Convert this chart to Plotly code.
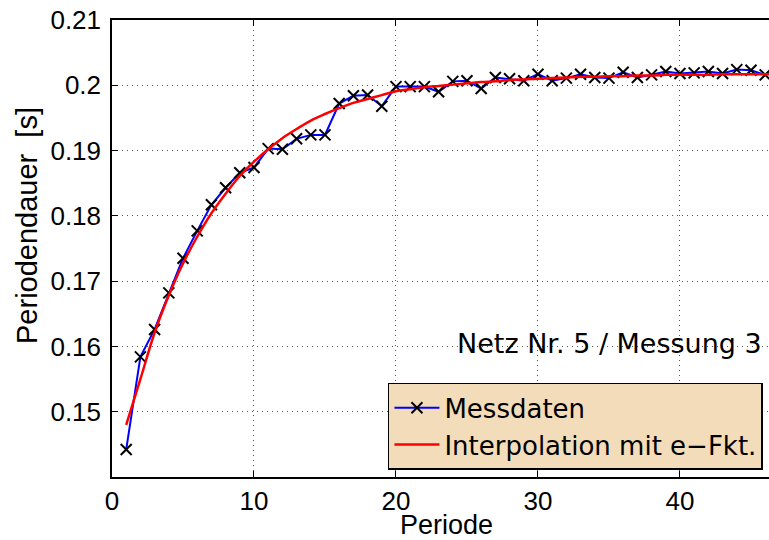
import plotly.graph_objects as go

# Measured period durations per period (Netz Nr. 5 / Messung 3)
periode = list(range(1, 47))
messdaten = [
    0.1442, 0.1584, 0.1626, 0.1682, 0.1735, 0.1777, 0.1817, 0.1843, 0.1866, 0.1874,
    0.1903, 0.1902, 0.1918, 0.1924, 0.1924, 0.1972, 0.1984, 0.1985, 0.1968, 0.1998,
    0.1998, 0.1998, 0.1990, 0.2006, 0.2007, 0.1995, 0.2012, 0.2010, 0.2007, 0.2017,
    0.2007, 0.2011, 0.2017, 0.2012, 0.2011, 0.2020, 0.2012, 0.2016, 0.2021, 0.2018,
    0.2019, 0.2021, 0.2018, 0.2024, 0.2023, 0.2016,
]

# Exponential fit curve sampled at each period
fit_periode = list(range(1, 48))
fit_werte = [
    0.1480, 0.1550, 0.1621, 0.1678, 0.1727, 0.1768, 0.1804, 0.1834, 0.1861, 0.1883,
    0.1902, 0.1919, 0.1933, 0.1946, 0.1956, 0.1965, 0.1973, 0.1979, 0.1985, 0.1991,
    0.1994, 0.1997, 0.1999, 0.2001, 0.2003, 0.2005, 0.2006, 0.2008, 0.2009, 0.2010,
    0.2011, 0.2012, 0.2013, 0.2013, 0.2014, 0.2014, 0.2015, 0.2015, 0.2016, 0.2016,
    0.2016, 0.2016, 0.2017, 0.2017, 0.2017, 0.2017, 0.2017,
]

x_ticks = [0, 10, 20, 30, 40]
y_ticks = [0.15, 0.16, 0.17, 0.18, 0.19, 0.20, 0.21]
y_ticktext = ["0.15", "0.16", "0.17", "0.18", "0.19", "0.2", "0.21"]

FONT = "Liberation Sans, Arial, Helvetica, sans-serif"
WIDE_FONT = "DejaVu Sans, Liberation Sans, sans-serif"

fig = go.Figure()
fig.add_trace(go.Scatter(
    x=periode, y=messdaten, mode="lines+markers", name="Messdaten",
    line=dict(color="#0000FF", width=2),
    marker=dict(symbol="x-thin", size=11, color="black",
                line=dict(color="black", width=2)),
))
fig.add_trace(go.Scatter(
    x=fit_periode, y=fit_werte, mode="lines", name="Interpolation mit e\u2212Fkt.",
    line=dict(color="#FF0000", width=2.5, shape="spline"),
))

axis_common = dict(
    showline=True, linecolor="black", linewidth=1.5,
    ticks="inside", ticklen=6, tickwidth=1, tickcolor="black",
    showgrid=True, gridcolor="#555555", griddash="1px,4px", gridwidth=1,
    zeroline=False,
    tickfont=dict(family=FONT, size=26, color="black"),
)

fig.update_xaxes(range=[0, 46.27], tickvals=x_ticks, mirror="ticks", **axis_common)
fig.update_yaxes(range=[0.14, 0.21], tickvals=y_ticks, ticktext=y_ticktext,
                 mirror=False, ticklabelstandoff=4, **axis_common)

fig.update_layout(
    width=769, height=540, autosize=False,
    margin=dict(l=112, r=0, t=20, b=63),
    plot_bgcolor="white", paper_bgcolor="white",
    font=dict(family=FONT, color="black"),
    showlegend=True,
    legend=dict(
        x=0.42, y=0.206, xanchor="left", yanchor="top",
        bgcolor="#F2DCB9", bordercolor="black", borderwidth=1.5,
        font=dict(family=WIDE_FONT, size=26, color="black"),
        itemwidth=45, tracegroupgap=0,
    ),
    annotations=[
        dict(text="Netz Nr. 5 / Messung 3", xref="paper", yref="paper",
             x=0.9924, y=0.293, xanchor="right", yanchor="middle",
             showarrow=False, font=dict(family=WIDE_FONT, size=27, color="black")),
        dict(text="Periode", xref="paper", yref="paper",
             x=(446 - 112) / 657, y=-(525 - 477) / 457, xanchor="center", yanchor="middle",
             showarrow=False, font=dict(family=FONT, size=27, color="black")),
        dict(text="Periodendauer  [s]", xref="paper", yref="paper",
             x=(27 - 112) / 657, y=(477 - 226) / 457, xanchor="center", yanchor="middle",
             textangle=-90, showarrow=False,
             font=dict(family=FONT, size=29, color="black")),
    ],
)

fig.write_html("out.html")
